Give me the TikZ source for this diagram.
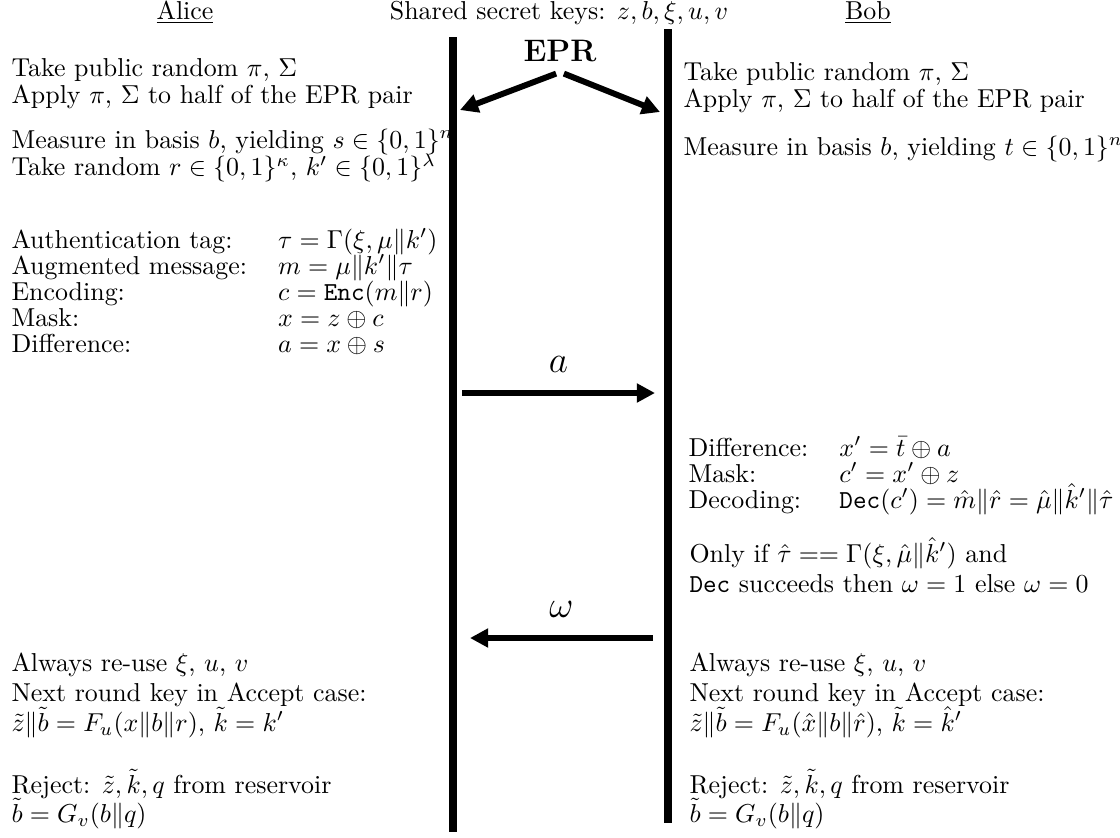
\documentclass[tikz,border=0pt]{standalone}
\usepackage{amsmath}
\usetikzlibrary{arrows.meta}

% lines of a step, fixed distance between baselines
\newcommand{\stepblock}[2]{\vtop{\baselineskip=#1\lineskiplimit=-\maxdimen\let\\=\cr
		\halign{##\unskip\hfil&&\hskip12pt##\unskip\hfil\cr#2\crcr}}}

\begin{document}
\begin{tikzpicture}[x=0.386pt,y=-0.386pt,
		>={Triangle[length=7pt,width=7pt]},
		party node/.style={anchor=base,inner sep=0pt},
		step node/.style={anchor=base west,inner sep=0pt},
		timeline/.style={line width=2.8pt},
		msg arrow/.style={->,line width=2pt},
		msg label/.style={above=3.5pt,font=\Large},
		epr arrow/.style={->,line width=2.3pt}]
		\useasboundingbox (0,0) rectangle (1120,837);
		
		% parties and keys
		\node[party node] (alice) at (185,19) {\underline{Alice}};
		\node[party node] (keys) at (559,19) {Shared secret keys: $z, b, \xi, u, v$};
		\node[party node] (bob) at (868,19) {\underline{Bob}};
		
		% time lines
		\coordinate (atop) at (453,37);
		\coordinate (abot) at (453,832);
		\coordinate (btop) at (668,29);
		\coordinate (bbot) at (668,823);
		\draw[timeline] (atop) -- (abot);
		\draw[timeline] (btop) -- (bbot);
		
		% EPR source
		\node[font=\large\bfseries] (epr) at (560,51) {EPR};
		\coordinate (eprA) at (460,110);
		\coordinate (eprB) at (660,112);
		\draw[epr arrow] ([xshift=-1.5pt,yshift=-1pt]epr.south) -- (eprA);
		\draw[epr arrow] ([xshift=1.5pt,yshift=-1pt]epr.south) -- (eprB);
		
		% Alice
		\node[step node] (a1) at (11,76) {\stepblock{10.8pt}{Take public random $\pi$, $\Sigma$\\
				Apply $\pi$, $\Sigma$ to half of the EPR pair}};
		\node[step node] (a2) at (11,148) {\stepblock{10.8pt}{Measure in basis $b$, yielding $s\in\{0,1\}^n$\\
				Take random $r\in\{0,1\}^\kappa$, $k'\in\{0,1\}^\lambda$}};
		\node[step node] (a3) at (11,248) {\stepblock{10.1pt}{Authentication tag: & $\tau = \Gamma(\xi, \mu\|k')$\\
				Augmented message: & $m = \mu\|k'\|\tau$\\
				Encoding: & $c = \mathtt{Enc}(m\|r)$\\
				Mask: & $x = z\oplus c$\\
				Difference: & $a = x\oplus s$}};
		\node[step node] (a4) at (11,671) {\stepblock{11.6pt}{Always re-use $\xi$, $u$, $v$\\
				Next round key in Accept case:\\
				$\tilde{z}\|\tilde{b} = F_u(x\|b\|r)$, $\tilde{k} = k'$}};
		\node[step node] (a5) at (11,793) {\stepblock{11.4pt}{Reject: $\tilde{z}, \tilde{k}, q$ from reservoir\\
				$\tilde{b} = G_v(b\|q)$}};
		
		% Bob
		\node[step node] (b1) at (683,80) {\stepblock{10.8pt}{Take public random $\pi$, $\Sigma$\\
				Apply $\pi$, $\Sigma$ to half of the EPR pair}};
		\node[step node] (b2) at (683,155) {Measure in basis $b$, yielding $t\in\{0,1\}^n$};
		\node[step node] (b3) at (688,456) {\stepblock{10.1pt}{Difference: & $x' = \bar{t}\oplus a$\\
				Mask: & $c' = x'\oplus z$\\
				Decoding: & $\mathtt{Dec}(c') = \hat{m}\|\hat{r} = \hat{\mu}\|\hat{k}'\|\hat{\tau}$}};
		\node[step node] (b4) at (689,562) {\stepblock{11.6pt}{Only if $\hat{\tau} == \Gamma(\xi, \hat{\mu}\|\hat{k}')$ and\\
				\texttt{Dec} succeeds then $\omega = 1$ else $\omega = 0$}};
		\node[step node] (b5) at (689,671) {\stepblock{11.6pt}{Always re-use $\xi$, $u$, $v$\\
				Next round key in Accept case:\\
				$\tilde{z}\|\tilde{b} = F_u(\hat{x}\|b\|\hat{r})$, $\tilde{k} = \hat{k}'$}};
		\node[step node] (b6) at (689,793) {\stepblock{11.4pt}{Reject: $\tilde{z}, \tilde{k}, q$ from reservoir\\
				$\tilde{b} = G_v(b\|q)$}};
		
		% messages
		\coordinate (asnd) at (462,393);
		\coordinate (arcv) at (655,393);
		\draw[msg arrow] (asnd) -- node[msg label] {$a$} (arcv);
		\coordinate (wsnd) at (653,638);
		\coordinate (wrcv) at (470,638);
		\draw[msg arrow] (wsnd) -- node[msg label] {$\omega$} (wrcv);
\end{tikzpicture}
\end{document}
